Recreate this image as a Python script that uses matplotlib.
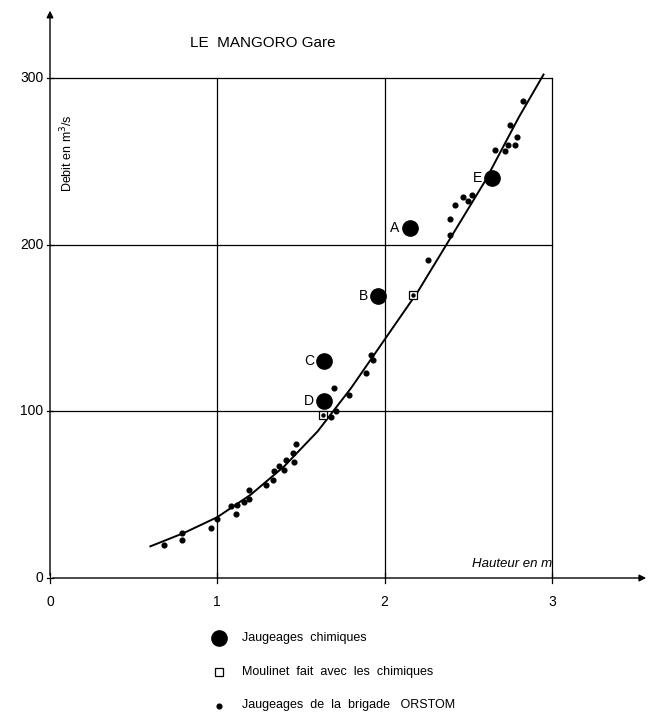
import matplotlib
matplotlib.use("Agg")
import matplotlib.pyplot as plt

plt.rcParams['font.family'] = ['Liberation Sans', 'DejaVu Sans']

# rating curve (hauteur m, debit m3/s)
curve_h = [0.60, 0.80, 1.00, 1.20, 1.40, 1.60, 1.80, 2.00, 2.20, 2.40, 2.60, 2.80, 2.95]
curve_q = [19, 27, 36.5, 50, 67, 88, 114, 143, 172, 205, 238, 276, 302]

# jaugeages chimiques
chem_labels = ['A', 'B', 'C', 'D', 'E']
chem_h = [2.15, 1.96, 1.64, 1.64, 2.64]
chem_q = [210, 169, 130, 106, 240]

# moulinet fait avec les chimiques
moul_h = [1.63, 2.17]
moul_q = [98, 169.5]

# jaugeages de la brigade ORSTOM
orstom_h = [0.68, 0.79, 0.79, 0.96, 1.00, 1.08, 1.12, 1.11, 1.16, 1.19, 1.19, 1.29,
            1.33, 1.34, 1.37, 1.40, 1.41, 1.45, 1.46, 1.47, 1.68, 1.71, 1.70, 1.79,
            1.89, 1.92, 1.93, 2.26, 2.39, 2.39, 2.42, 2.47, 2.52, 2.50, 2.66, 2.72,
            2.74, 2.78, 2.79, 2.75, 2.83]
orstom_q = [20, 27, 23, 30, 35.5, 43, 44, 38.5, 45.5, 47.5, 52.5, 55.5,
            58.5, 64, 67, 64.5, 70.5, 75, 69.5, 80.5, 96.5, 100, 114, 110,
            123, 134, 131, 190.5, 205.5, 215.5, 224, 228.5, 230, 226, 257, 256,
            260, 260, 264.5, 272, 286]

x_ticks = [0, 1, 2, 3]
y_ticks = [0, 100, 200, 300]

W, H = 650, 715
fig = plt.figure(figsize=(W / 100, H / 100), dpi=100)
# axes: x=0 at px 50, 167.3 px per m ; y=0 at px 578, 1.667 px per m3/s
ax = fig.add_axes([50 / W, (H - 578) / H, 600 / W, 570 / H])
ax.set_xlim(0, 600 / 167.3)
ax.set_ylim(0, 570 / 1.667)
ax.axis('off')

# grid
for v in x_ticks[1:]:
    ax.plot([v, v], [0, 300], color='black', lw=0.9)
for v in y_ticks[1:]:
    ax.plot([0, 3], [v, v], color='black', lw=0.9)

# axes with arrows
ax.annotate('', xy=(3.58, 0), xytext=(0, 0), annotation_clip=False,
            arrowprops=dict(arrowstyle='-|>', color='black', lw=1.0, mutation_scale=10))
ax.annotate('', xy=(0, 342), xytext=(0, 0), annotation_clip=False,
            arrowprops=dict(arrowstyle='-|>', color='black', lw=1.0, mutation_scale=10))

for v in x_ticks:
    ax.plot([v, v], [-3, 3], color='black', lw=0.9, clip_on=False)
    ax.text(v, -10, str(v), ha='center', va='top', fontsize=10)
for v in y_ticks:
    ax.plot([-0.02, 0.02], [v, v], color='black', lw=0.9, clip_on=False)
    ax.text(-0.04, v, str(v), ha='right', va='center', fontsize=10)

ax.text(3.0, 5, 'Hauteur en m', ha='right', va='bottom', fontsize=9.5, style='italic')
ax.text(0.05, 255, 'Debit en m$^3$/s', ha='left', va='center', rotation=90, fontsize=9)
ax.text(1.27, 321, 'LE  MANGORO Gare', ha='center', va='center', fontsize=11)

# curve and points
ax.plot(curve_h, curve_q, color='black', lw=1.4)
ax.plot(orstom_h, orstom_q, 'o', color='black', ms=3.4)
ax.plot(moul_h, moul_q, 's', mfc='white', mec='black', ms=5.5, mew=0.9)
ax.plot(moul_h, moul_q, 'o', color='black', ms=2.2)
ax.plot(chem_h, chem_q, 'o', color='black', ms=11)
for lab, h, q in zip(chem_labels, chem_h, chem_q):
    ax.text(h - 0.06, q, lab, ha='right', va='center', fontsize=10)

# legend below the chart
ax.plot([1.01], [-36], 'o', color='black', ms=11, clip_on=False)
ax.text(1.15, -36, 'Jaugeages  chimiques', ha='left', va='center', fontsize=9)
ax.plot([1.01], [-56.5], 's', mfc='white', mec='black', ms=5.5, mew=0.9, clip_on=False)
ax.text(1.15, -56.5, 'Moulinet  fait  avec  les  chimiques', ha='left', va='center', fontsize=9)
ax.plot([1.01], [-76.5], 'o', color='black', ms=3.4, clip_on=False)
ax.text(1.15, -76, 'Jaugeages  de  la  brigade   ORSTOM', ha='left', va='center', fontsize=9)

fig.savefig('out.png', dpi=100)
